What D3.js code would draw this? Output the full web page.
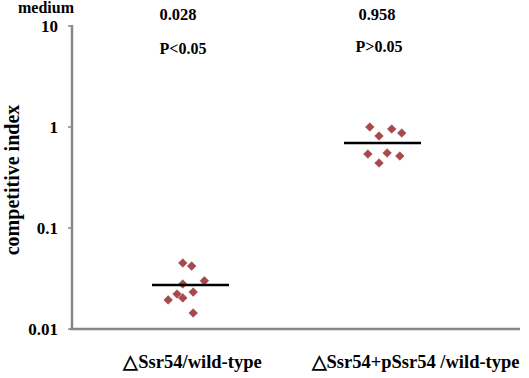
<!DOCTYPE html>
<html lang="en">
<head>
<meta charset="UTF-8">
<title>competitive index</title>
<script src="https://d3js.org/d3.v7.min.js"></script>
<style>
    body { margin: 0; background: #fff; }
    text { font-family: "Liberation Serif", "Times New Roman", serif; font-weight: bold; fill: #000; }
</style>
</head>
<body>
<script>

// data
const categories = ['\u25B3Ssr54/wild-type', '\u25B3Ssr54+pSsr54 /wild-type'];
const mutantValues = [0.045, 0.042, 0.0279, 0.030, 0.0232, 0.0222, 0.0203, 0.0194, 0.0144];
const mutantJitter = [-0.2, 0.03, -0.2, 0.36, 0.07, -0.35, -0.2, -0.58, 0.07];
const complValues = [1.0, 0.815, 0.955, 0.872, 0.54, 0.553, 0.44, 0.516];
const complJitter = [-0.33, -0.09, 0.24, 0.5, -0.38, 0.12, -0.09, 0.45];
const means = [0.0273, 0.695];
const ratioLabels = ['0.028', '0.958'];
const pLabels = ['P<0.05', 'P>0.05'];
const yTicks = [0.01, 0.1, 1, 10];

const W = 529, H = 378;
const svg = d3.select('body').append('svg').attr('width', W).attr('height', H);

const y = d3.scaleLog().domain([0.01, 10]).range([329, 26]);
const x = d3.scalePoint().domain(categories).range([190.5, 382.5]);
const jit = d3.scaleLinear().domain([-1, 1]).range([-38.5, 38.5]);

// axes
svg.append('line').attr('x1', 72).attr('x2', 72).attr('y1', 25).attr('y2', 330)
    .style('stroke', '#888').style('stroke-width', 2.5);
svg.append('line').attr('x1', 70).attr('x2', 520).attr('y1', 329).attr('y2', 329)
    .style('stroke', '#888').style('stroke-width', 2.5);

svg.selectAll('.tick').data(yTicks).enter().append('line')
    .attr('x1', 68).attr('x2', 72)
    .attr('y1', d => y(d)).attr('y2', d => y(d))
    .style('stroke', '#888').style('stroke-width', 1.5);

svg.selectAll('.ylab').data(yTicks).enter().append('text')
    .attr('x', 58).attr('y', d => y(d) + 6)
    .attr('text-anchor', 'end').style('font-size', '17px')
    .text(d => d3.format('~g')(d));

svg.append('text').attr('x', 46).attr('y', 13).attr('text-anchor', 'middle')
    .style('font-size', '16px').text('medium');

svg.append('text').attr('transform', 'translate(19,180) rotate(-90)')
    .attr('text-anchor', 'middle').style('font-size', '20px').text('competitive index');

// category labels
svg.append('text').attr('x', x(categories[0]) + 2).attr('y', 368)
    .attr('text-anchor', 'middle').style('font-size', '18.5px').text(categories[0]);
svg.append('text').attr('x', x(categories[1]) + 33).attr('y', 368)
    .attr('text-anchor', 'middle').style('font-size', '18.5px').text(categories[1]);

// annotations
svg.selectAll('.ratio').data(ratioLabels).enter().append('text')
    .attr('x', (d, i) => x(categories[i]) - (i ? 5.5 : 12.5)).attr('y', 20)
    .attr('text-anchor', 'middle').style('font-size', '16.5px').text(d => d);
svg.selectAll('.pval').data(pLabels).enter().append('text')
    .attr('x', (d, i) => x(categories[i]) - (i ? 3.5 : 7.5)).attr('y', (d, i) => i ? 52 : 54)
    .attr('text-anchor', 'middle').style('font-size', '16px').text(d => d);

// points
const diamond = d3.symbol().type(d3.symbolDiamond2).size(48);
const pts = [
    ...mutantValues.map((v, i) => ({ c: categories[0], v, j: mutantJitter[i] })),
    ...complValues.map((v, i) => ({ c: categories[1], v, j: complJitter[i] }))
];
svg.selectAll('.pt').data(pts).enter().append('path')
    .attr('d', diamond)
    .attr('transform', d => `translate(${x(d.c) + jit(d.j)},${y(d.v)})`)
    .style('fill', '#a8484a')
    .style('stroke', '#8e3a3c')
    .style('stroke-width', 0.5);

// mean lines
svg.selectAll('.mean').data(means).enter().append('line')
    .attr('x1', (d, i) => x(categories[i]) + jit(-1))
    .attr('x2', (d, i) => x(categories[i]) + jit(1))
    .attr('y1', d => y(d)).attr('y2', d => y(d))
    .style('stroke', '#000').style('stroke-width', 2.5);

</script>
</body>
</html>
